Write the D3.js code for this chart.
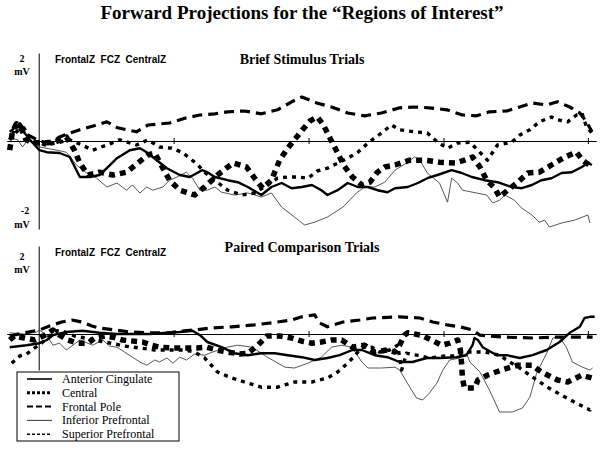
<!DOCTYPE html>
<html lang="en">

<head>
    <meta charset="UTF-8">
    <title>Forward Projections</title>
    <script src="https://d3js.org/d3.v7.min.js"></script>
    <style>
        body {
            margin: 0;
            background: #fff;
        }

        svg {
            display: block;
        }

        .title {
            font-family: "Liberation Serif", "Times New Roman", serif;
            font-weight: bold;
        }

        .unit {
            font-family: "Liberation Serif", "Times New Roman", serif;
            font-weight: bold;
            font-size: 10px;
        }

        .electrodes {
            font-family: "Liberation Sans", Arial, sans-serif;
            font-weight: bold;
            font-size: 10px;
            white-space: pre;
        }

        .legend_text {
            font-family: "Liberation Serif", "Times New Roman", serif;
            font-size: 12px;
        }
    </style>
</head>

<body>
    <svg width="604" height="449"></svg>

    <script>
        // time in ms (0 = stimulus onset), amplitude in mV
        const seriesNames = ["Anterior Cingulate", "Central", "Frontal Pole", "Inferior Prefrontal", "Superior Prefrontal"];
        const tickTimes = [200, 400, 600, 814];
        const mainTitle = "Forward Projections for the \u201cRegions of Interest\u201d";
        const panelTitles = ["Brief Stimulus Trials", "Paired Comparison Trials"];
        const electrodeLabel = "FrontalZ  FCZ  CentralZ";

        const briefAnterior = [[-43,0.23],[-36,0.33],[-28,0.35],[-21,0.2],[-13,0.03],[1,-0.23],[12,-0.28],[31,-0.3],[46,-0.4],[61,-0.9],[76,-0.9],[90,-0.85],[101,-0.68],[116,-0.43],[135,-0.23],[150,-0.18],[160,-0.28],[175,-0.48],[190,-0.68],[209,-0.85],[224,-0.9],[242,-0.73],[250,-0.78],[261,-0.9],[280,-0.98],[295,-1.03],[310,-1.15],[330,-1.35],[345,-1.15],[360,-1.05],[375,-1.18],[390,-1.15],[405,-1.1],[419,-1.23],[428,-1.35],[443,-1.23],[458,-1.05],[473,-1.15],[488,-1.15],[502,-1.23],[517,-1.28],[528,-1.18],[547,-1.15],[562,-1.05],[576,-0.93],[591,-0.85],[612,-0.73],[627,-0.8],[642,-0.9],[661,-0.98],[680,-1.03],[701,-1.15],[716,-1.18],[731,-1.1],[745,-0.98],[760,-0.93],[775,-0.8],[790,-0.78],[805,-0.65],[814,-0.55],[820,-0.6]];
        const briefCentral = [[-43,-0.23],[-39,0.23],[-33,0.43],[-25,0.28],[-19,0.03],[-10,-0.03],[1,-0.05],[24,-0.03],[41,0.1],[53,-0.23],[61,-0.55],[73,-0.85],[90,-0.78],[110,-0.85],[130,-0.78],[147,-0.55],[162,-0.35],[172,-0.3],[184,-0.68],[194,-0.98],[209,-1.23],[231,-1.35],[246,-1.15],[265,-0.85],[288,-0.55],[308,-0.65],[320,-0.93],[332,-1.18],[345,-0.98],[357,-0.48],[369,-0.18],[379,0.03],[391,0.28],[402,0.5],[413,0.6],[422,0.4],[433,0.03],[443,-0.3],[453,-0.63],[465,-0.9],[479,-1.1],[491,-1.03],[502,-0.78],[513,-0.65],[528,-0.6],[550,-0.48],[572,-0.48],[594,-0.53],[617,-0.55],[631,-0.48],[643,-0.4],[654,-0.65],[664,-0.98],[676,-1.18],[683,-1.4],[695,-1.23],[710,-1.03],[725,-0.8],[742,-0.78],[760,-0.6],[780,-0.4],[797,-0.28],[806,-0.48],[820,-0.65]];
        const briefFrontal = [[-43,0.03],[-36,0.28],[-28,0.43],[-16,0.15],[1,0],[16,-0.05],[31,0.1],[46,0.2],[61,0.28],[86,0.4],[101,0.48],[117,0.33],[145,0.23],[162,0.4],[194,0.45],[219,0.58],[239,0.65],[261,0.68],[280,0.73],[305,0.75],[330,0.68],[354,0.78],[375,0.98],[390,1.1],[412,0.95],[434,0.85],[458,0.7],[483,0.63],[508,0.7],[535,0.83],[557,0.85],[579,0.83],[605,0.78],[628,0.65],[649,0.63],[668,0.73],[694,0.75],[713,0.85],[732,0.95],[753,0.9],[769,0.98],[787,0.85],[802,0.7],[812,0.48],[820,0.23]];
        const briefInferior = [[-43,0.08],[-31,0.03],[-24,-0.15],[-16,0.03],[-6,-0.1],[1,-0.15],[27,-0.23],[41,-0.28],[56,-0.6],[71,-0.8],[86,-0.93],[101,-1.15],[116,-1.05],[130,-1.23],[139,-1.1],[150,-1.3],[160,-1.15],[169,-1.23],[184,-1.15],[194,-0.98],[205,-0.9],[219,-0.78],[228,-0.93],[239,-1.23],[250,-1.23],[261,-1.15],[271,-1.28],[290,-1.35],[310,-1.3],[330,-1.4],[345,-1.3],[360,-1.65],[379,-1.9],[394,-2.1],[409,-2.03],[428,-1.9],[451,-1.65],[471,-1.3],[483,-1.15],[498,-1.15],[513,-1.03],[528,-0.73],[545,-0.55],[557,-0.4],[565,-0.48],[576,-0.8],[594,-1.05],[606,-1.53],[612,-0.93],[621,-1.05],[628,-1.23],[649,-1.3],[664,-1.35],[673,-1.55],[683,-1.48],[691,-1.35],[705,-1.48],[716,-1.68],[731,-1.85],[742,-2.03],[750,-1.98],[757,-2.15],[775,-2.05],[794,-1.98],[814,-1.85],[817,-2.05]];
        const briefSuperior = [[-43,0.03],[-33,0.23],[-22,0.33],[-13,0.03],[9,-0.1],[27,-0.05],[46,0.03],[64,-0.1],[80,-0.23],[101,-0.1],[120,0.03],[145,-0.1],[162,0.03],[179,-0.15],[197,-0.18],[212,-0.28],[224,-0.43],[236,-0.6],[246,-0.78],[261,-0.98],[280,-1.23],[301,-1.35],[320,-1.3],[339,-1.1],[354,-0.93],[369,-0.9],[384,-0.9],[399,-0.93],[413,-0.75],[428,-0.68],[446,-0.53],[461,-0.4],[473,-0.28],[488,-0.05],[508,0.2],[523,0.4],[535,0.28],[557,0.23],[576,0.2],[591,-0.03],[606,-0.18],[621,-0.05],[639,-0.03],[651,-0.23],[665,-0.48],[680,-0.1],[701,-0.03],[713,0.15],[728,0.28],[742,0.48],[760,0.6],[769,0.53],[784,0.48],[797,0.65],[805,0.7],[812,0.35],[820,0.2]];

        const pairedAnterior = [[-43,-0.33],[-18,-0.28],[1,-0.23],[12,-0.15],[21,-0.03],[41,0.05],[65,0.08],[90,0.03],[116,0],[139,0],[165,0],[190,0.03],[209,0.05],[228,0.08],[239,-0.03],[250,-0.2],[271,-0.33],[290,-0.48],[310,-0.53],[330,-0.48],[350,-0.48],[369,-0.53],[390,-0.58],[409,-0.65],[428,-0.6],[446,-0.53],[465,-0.4],[479,-0.4],[498,-0.53],[517,-0.58],[535,-0.7],[554,-0.7],[575,-0.6],[594,-0.6],[619,-0.58],[634,-0.53],[643,-0.28],[646,-0.1],[651,-0.15],[658,-0.33],[679,-0.53],[694,-0.53],[713,-0.6],[732,-0.53],[753,-0.4],[772,-0.2],[787,0.03],[802,0.18],[809,0.4],[817,0.43],[824,0.43]];
        const pairedCentral = [[-43,-0.15],[-36,-0.05],[-21,-0.1],[-6,-0.15],[9,-0.03],[21,0.1],[31,-0.03],[43,-0.15],[58,-0.23],[73,-0.23],[83,-0.1],[98,-0.05],[110,-0.08],[124,-0.15],[142,-0.18],[154,-0.2],[167,-0.28],[179,-0.33],[199,-0.35],[219,-0.35],[234,-0.35],[249,-0.33],[264,-0.4],[280,-0.45],[298,-0.5],[310,-0.48],[325,-0.28],[338,-0.05],[357,-0.05],[375,-0.1],[390,-0.18],[405,-0.23],[419,-0.2],[434,-0.15],[449,-0.15],[465,-0.33],[483,-0.28],[498,-0.45],[517,-0.4],[528,-0.45],[535,-0.28],[542,-0.03],[547,0.03],[567,-0.03],[582,-0.15],[597,-0.28],[609,-0.23],[621,-0.15],[625,-0.4],[627,-0.78],[628,-1.1],[631,-1.35],[646,-1.35],[651,-1.15],[665,-1.03],[686,-0.9],[710,-0.78],[731,-0.78],[745,-0.95],[769,-1.15],[784,-1.2],[805,-1.03],[820,-1.1]];
        const pairedFrontal = [[-43,-0.05],[-21,0.03],[1,0.1],[16,0.2],[34,0.3],[49,0.35],[64,0.3],[79,0.2],[90,0.15],[113,0.1],[135,0.05],[165,0.03],[194,0.03],[216,0.08],[231,0.1],[256,0.15],[286,0.18],[320,0.23],[345,0.28],[375,0.35],[390,0.43],[409,0.48],[416,0.28],[428,0.18],[451,0.3],[476,0.35],[495,0.4],[535,0.43],[565,0.4],[584,0.3],[605,0.23],[624,0.18],[643,0.1],[654,-0.03],[668,-0.05],[694,-0.08],[732,-0.1],[762,-0.08],[782,-0.08],[812,-0.08],[821,-0.08]];
        const pairedInferior = [[-43,0.03],[-21,0],[-3,0.05],[1,0.1],[12,-0.03],[21,-0.28],[31,-0.23],[41,-0.4],[61,-0.15],[80,-0.28],[95,-0.15],[105,-0.3],[116,-0.33],[127,-0.45],[139,-0.58],[150,-0.7],[160,-0.78],[172,-0.65],[179,-0.7],[190,-0.6],[199,-0.73],[209,-0.58],[219,-0.65],[231,-0.5],[246,-0.53],[258,-0.45],[279,-0.33],[295,-0.28],[316,-0.33],[339,-0.58],[365,-0.83],[379,-0.85],[399,-0.73],[419,-0.58],[434,-0.33],[449,-0.28],[464,-0.33],[479,-0.7],[488,-0.85],[508,-0.85],[528,-0.83],[535,-0.9],[550,-1.33],[560,-1.6],[569,-1.65],[579,-1.48],[590,-1.23],[599,-0.9],[609,-0.65],[624,-0.6],[634,-0.48],[639,-0.7],[654,-0.95],[668,-1.4],[683,-1.95],[702,-1.95],[717,-1.85],[728,-1.58],[738,-0.98],[753,-0.48],[762,-0.1],[772,-0.08],[782,-0.33],[791,-0.7],[806,-0.83],[817,-0.9],[821,-0.85]];
        const pairedSuperior = [[-40,-0.73],[-28,-0.55],[-18,-0.5],[-6,-0.35],[4,-0.23],[16,-0.05],[27,0.08],[39,0.05],[53,-0.05],[68,-0.1],[83,-0.15],[98,-0.2],[113,-0.25],[127,-0.3],[150,-0.35],[172,-0.4],[194,-0.4],[216,-0.4],[231,-0.45],[246,-0.6],[265,-0.95],[286,-1.1],[305,-1.2],[330,-1.33],[354,-1.33],[379,-1.2],[405,-1.2],[428,-1.1],[443,-0.95],[458,-0.73],[468,-0.55],[479,-0.33],[494,-0.33],[505,-0.45],[520,-0.4],[532,-0.28],[538,-0.9],[545,-0.48],[560,-0.53],[579,-0.6],[602,-0.55],[621,-0.55],[639,-0.45],[661,-0.45],[683,-0.53],[698,-0.7],[713,-0.85],[732,-1.08],[754,-1.33],[775,-1.53],[797,-1.73],[817,-1.9],[821,-1.83]];

        // stroke styles for the traces and for the small legend samples
        const lineStyles = {
            "Anterior Cingulate": { width: 2.4, dash: null, color: "#000" },
            "Central": { width: 5.5, dash: "6,5", color: "#000" },
            "Frontal Pole": { width: 3.2, dash: "10,6", color: "#000" },
            "Inferior Prefrontal": { width: 0.9, dash: null, color: "#444" },
            "Superior Prefrontal": { width: 3.4, dash: "4,5", color: "#000" }
        };
        const legendStyles = {
            "Anterior Cingulate": { width: 1.6, dash: null },
            "Central": { width: 3, dash: "3,2" },
            "Frontal Pole": { width: 2, dash: "6,3" },
            "Inferior Prefrontal": { width: 0.8, dash: null },
            "Superior Prefrontal": { width: 1.4, dash: "3,2" }
        };

        const panels = [
            {
                title: panelTitles[0],
                series: [briefAnterior, briefCentral, briefFrontal, briefInferior, briefSuperior],
                yDomain: [-2.2, 2.2], yRange: [229, 53],
                titleY: 64, electrodeY: 63,
                units: [{ t: "2", x: 22, y: 62 }, { t: "mV", x: 22, y: 75 }, { t: "-2", x: 25, y: 214 }, { t: "mV", x: 22, y: 228 }]
            },
            {
                title: panelTitles[1],
                series: [pairedAnterior, pairedCentral, pairedFrontal, pairedInferior, pairedSuperior],
                yDomain: [-0.9, 2.2], yRange: [370, 246],
                titleY: 252, electrodeY: 256,
                units: [{ t: "2", x: 22, y: 260 }, { t: "mV", x: 22, y: 273 }]
            }
        ];

        const svg = d3.select("svg");
        const x = d3.scaleLinear().domain([-47, 826]).range([7, 596]);

        svg.append("text")
            .attr("class", "title")
            .attr("x", 302).attr("y", 19)
            .attr("text-anchor", "middle")
            .style("font-size", "19px")
            .text(mainTitle);

        function drawPanel(panel) {
            const y = d3.scaleLinear().domain(panel.yDomain).range(panel.yRange);
            const g = svg.append("g");
            const zeroY = y(0);

            // zero line with ticks on both sides
            g.append("g")
                .attr("transform", `translate(0,${zeroY})`)
                .call(d3.axisBottom(x).tickValues(tickTimes).tickSizeInner(3).tickSizeOuter(0).tickFormat(""));
            g.append("g")
                .attr("transform", `translate(0,${zeroY})`)
                .call(d3.axisTop(x).tickValues(tickTimes).tickSizeInner(3).tickSizeOuter(0).tickFormat(""));
            g.append("g")
                .attr("transform", `translate(${x(0)},0)`)
                .call(d3.axisLeft(y).tickValues([]).tickSizeOuter(0));
            g.selectAll(".domain, .tick line").attr("stroke", "#000").attr("stroke-width", 1);

            const line = d3.line()
                .x(d => x(d[0]))
                .y(d => y(d[1]));

            const order = [3, 2, 4, 1, 0];
            order.forEach(i => {
                const st = lineStyles[seriesNames[i]];
                g.append("path")
                    .datum(panel.series[i])
                    .attr("d", line)
                    .attr("fill", "none")
                    .attr("stroke", st.color)
                    .attr("stroke-width", st.width)
                    .attr("stroke-dasharray", st.dash)
                    .attr("stroke-linejoin", "round");
            });

            g.selectAll(".unit")
                .data(panel.units)
                .enter()
                .append("text")
                .attr("class", "unit")
                .attr("x", d => d.x).attr("y", d => d.y)
                .attr("text-anchor", "middle")
                .text(d => d.t);

            g.append("text")
                .attr("class", "electrodes")
                .attr("x", 55).attr("y", panel.electrodeY)
                .text(electrodeLabel);

            g.append("text")
                .attr("class", "title")
                .attr("x", 302).attr("y", panel.titleY)
                .attr("text-anchor", "middle")
                .style("font-size", "14px")
                .text(panel.title);
        }

        panels.forEach(drawPanel);

        // legend
        const legend = svg.append("g").attr("transform", "translate(17,372)");
        legend.append("rect")
            .attr("width", 162).attr("height", 69)
            .attr("fill", "#fff").attr("stroke", "#000").attr("stroke-width", 1);

        const rows = legend.selectAll(".row")
            .data(seriesNames)
            .enter()
            .append("g")
            .attr("class", "row")
            .attr("transform", (d, i) => `translate(0,${7 + i * 13.8})`);

        rows.append("line")
            .attr("x1", 10).attr("x2", 35)
            .attr("stroke", "#000")
            .attr("stroke-width", d => legendStyles[d].width)
            .attr("stroke-dasharray", d => legendStyles[d].dash);

        rows.append("text")
            .attr("class", "legend_text")
            .attr("x", 45).attr("y", 4)
            .text(d => d);
    </script>
</body>

</html>
